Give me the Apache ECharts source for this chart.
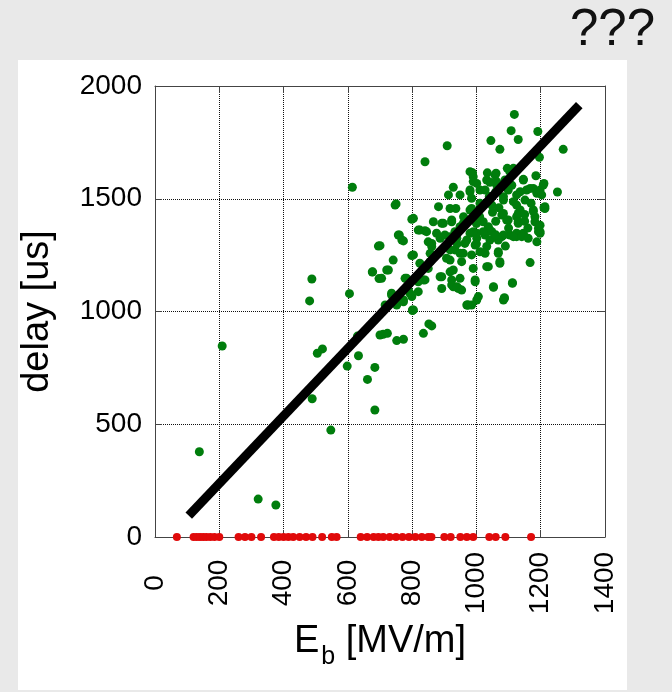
<!DOCTYPE html>
<html>
<head>
<meta charset="utf-8">
<script src="https://cdn.jsdelivr.net/npm/echarts@6/dist/echarts.min.js"></script>
<style>
html, body { margin: 0; padding: 0; background: #e9e9e9; }
#wrap { position: relative; width: 672px; height: 692px; }
#panel { position: absolute; left: 18px; top: 60px; width: 609px; height: 630px; background: #fff; }
#chart { position: absolute; left: 0; top: 0; width: 672px; height: 692px; }
</style>
</head>
<body>
<div id="wrap"><div id="panel"></div><div id="chart"></div></div>
<script>
// breakdown field vs delay, green = delayed shots, red = no delay
var xTicks = [0, 200, 400, 600, 800, 1000, 1200, 1400];
var yTicks = [0, 500, 1000, 1500, 2000];

var redEb = [68, 120, 130, 140, 150, 160, 172, 185, 200, 260, 280, 300, 330, 370, 385, 400, 415, 430, 450, 470,
  490, 520, 550, 565, 640, 660, 680, 695, 710, 730, 750, 770, 790, 810, 830, 850, 860, 900, 920, 950, 970, 990,
  1040, 1060, 1090, 1170];

var greenPts = [
  [138,378],[209,847],[321,168],[376,142],[481,1047],[488,1144],[489,613],[505,815],[521,834],[547,474],
  [598,758],[605,1079],[614,1551],[633,804],[630,891],[661,699],[684,752],[684,563],[676,1175],[697,1146],
  [695,1290],[700,896],[710,899],[723,903],[752,871],[773,877],[801,1004],[835,903],[852,945],[861,936],
  [716,1029],[752,1029],[773,1043],[1001,1051],[1084,1051],[970,1029],
  [1118,1874],[1108,1802],[1191,1798],[1130,1763],[1045,1758],[1073,1719],[1270,1719],[909,1735],[840,1664],
  [1196,1684],[988,1615],[1034,1615],[1061,1613],[1096,1635],[1115,1635],[1185,1602],[1146,1586],[1210,1568],
  [1252,1530],[928,1551],[990,1576],[1032,1583],[1063,1576],[1089,1583],[913,1517],[949,1517],[980,1531],
  [1011,1539],[1099,1539],[1125,1517],[1156,1539],[1177,1546],[1198,1539],[882,1465],[750,1477],[799,1409],
  [936,1457],[980,1450],[1011,1480],[1048,1472],[1084,1494],[1115,1487],[1136,1450],[1177,1450],[1182,1420],
  [1210,1460],[866,1398],[892,1391],[923,1406],[819,1361],[840,1358],[959,1391],[1021,1398],[1037,1376],
  [1048,1354],[1079,1428],[1094,1406],[1125,1420],[1130,1391],[1193,1369],[1198,1347],[760,1339],[773,1313],
  [700,1292],[861,1302],[887,1325],[918,1332],[980,1347],[1001,1325],[1027,1339],[1079,1332],[1104,1339],
  [1125,1332],[1146,1347],[1188,1309],[1193,1354],[799,1248],[741,1228],[824,1214],[856,1258],[882,1258],
  [918,1228],[933,1273],[959,1258],[964,1302],[1011,1265],[1032,1288],[1068,1265],[1073,1214],[1167,1217],
  [677,1176],[726,1184],[705,1147],[783,1147],[819,1132],[840,1140],[887,1154],[918,1176],[923,1140],
  [939,1110],[996,1140],[1032,1199],[1053,1110],[1112,1125],[736,1081],[773,1051],[793,1081],[819,1088],
  [928,1110],[944,1102],[1006,1066],[1087,1058],[972,1029],[801,1007],
  [1104,1620],[1146,1583],[1208,1561],[980,1620],[990,1598],[1001,1568],[980,1539],[1058,1605],[1042,1573],
  [1063,1561],[1027,1539],[1136,1531],[1167,1546],[1188,1524],[1203,1517],[1084,1509],[1151,1494],[1125,1472],
  [1213,1465],[985,1502],[1213,1457],[1177,1443],[1182,1398],[1130,1435],[1130,1398],[1084,1435],[1099,1406],
  [1198,1383],[1198,1354],[1125,1347],[1141,1332],[1161,1325],[1084,1339],[1115,1332],[1042,1361],[1021,1354],
  [1001,1347],[1042,1317],[1068,1317],[1027,1258],[1068,1258],[1073,1221],[1037,1199],[990,1191],[1053,1107],
  [1112,1128],[1087,1061],[985,1029],[747,1472],[918,1457],[985,1457],[804,1413],[824,1361],[845,1354],
  [897,1391],[923,1398],[949,1376],[876,1347],[902,1339],[933,1354],[939,1325],[990,1354],[757,1339],[768,1317],
  [850,1309],[861,1288],[970,1317],[996,1295],[887,1265],[918,1273],[804,1251],[856,1221],[850,1191],[907,1236],
  [949,1258],[954,1221],[985,1251],[721,1184],[778,1147],[835,1140],[892,1154],[928,1184],[923,1118],[949,1147],
  [996,1132],[736,1073],[788,1095],[799,1066],[892,1102],[939,1107],[954,1095],[975,1029],[804,1007],
  [1010,1420],[1050,1440],[1060,1400],[1150,1400],[1160,1370],[1060,1340],[1100,1370],[960,1420],[1000,1390],
  [1150,1430],[1170,1480],[1040,1510],[1060,1530],[1110,1560],[1070,1460],[940,1300],[1000,1300],[1090,1290]
];

// fitted trend line end points
var fitLine = [[105, 95], [1320, 1915]];

var font = 'Liberation Sans, Arial, Helvetica, sans-serif';
var boxLine = { color: '#444', width: 1 };
var tickStyle = { show: true, inside: true, length: 7, lineStyle: { color: '#444', width: 1 } };
var plain = function (v) { return String(v); };

var chart = echarts.init(document.getElementById('chart'));
var option = {
  backgroundColor: 'transparent',
  animation: false,
  textStyle: { fontFamily: font },
  title: {
    text: '???', right: 12, top: 0,
    textStyle: { fontFamily: font, fontSize: 51, fontWeight: 'normal', color: '#111' }
  },
  grid: { left: 155, top: 86, right: 67, bottom: 155, containLabel: false },
  xAxis: [{
    type: 'value', min: xTicks[0], max: xTicks[xTicks.length - 1], interval: 200, position: 'bottom',
    name: '{e|E}{s|b}{e| [MV/m]}', nameLocation: 'middle', nameGap: 85,
    nameTextStyle: {
      rich: {
        e: { fontFamily: font, fontSize: 38, color: '#000', verticalAlign: 'top' },
        s: { fontFamily: font, fontSize: 25, color: '#000', verticalAlign: 'top', padding: [23, 0, 0, 2] }
      }
    },
    axisLine: { show: true, onZero: false, lineStyle: boxLine },
    axisTick: tickStyle,
    axisLabel: { rotate: 90, margin: 46, align: 'center', verticalAlign: 'middle', fontSize: 28, color: '#000', fontFamily: font, formatter: plain },
    splitLine: { show: true, lineStyle: { type: 'dotted', color: '#111', width: 1 } }
  }, {
    type: 'value', min: xTicks[0], max: xTicks[xTicks.length - 1], interval: 200, position: 'top',
    axisLine: { show: true, onZero: false, lineStyle: boxLine },
    axisTick: tickStyle, axisLabel: { show: false }, splitLine: { show: false }
  }],
  yAxis: [{
    type: 'value', min: yTicks[0], max: yTicks[yTicks.length - 1], interval: 500, position: 'left',
    name: 'delay [us]', nameLocation: 'middle', nameGap: 98,
    nameTextStyle: { fontFamily: font, fontSize: 38, color: '#000' },
    axisLine: { show: true, onZero: false, lineStyle: boxLine },
    axisTick: tickStyle,
    axisLabel: { margin: 13, fontSize: 28, color: '#000', fontFamily: font, verticalAlign: 'middle', padding: [0, 0, 9, 0], formatter: plain },
    splitLine: { show: true, lineStyle: { type: 'dotted', color: '#111', width: 1 } }
  }, {
    type: 'value', min: yTicks[0], max: yTicks[yTicks.length - 1], interval: 500, position: 'right',
    axisLine: { show: true, onZero: false, lineStyle: boxLine },
    axisTick: tickStyle, axisLabel: { show: false }, splitLine: { show: false }
  }],
  series: [{
    type: 'scatter', data: greenPts, symbol: 'circle', symbolSize: 9, clip: false,
    itemStyle: { color: '#007d0c', opacity: 1 }
  }, {
    type: 'scatter', data: redEb.map(function (v) { return [v, 0]; }), symbol: 'circle', symbolSize: 8, clip: false,
    itemStyle: { color: '#e00a0a', opacity: 1 }
  }, {
    type: 'line', data: fitLine, symbol: 'none', z: 5,
    lineStyle: { color: '#000', width: 9, cap: 'butt' }
  }]
};
chart.setOption(option);
</script>
</body>
</html>
